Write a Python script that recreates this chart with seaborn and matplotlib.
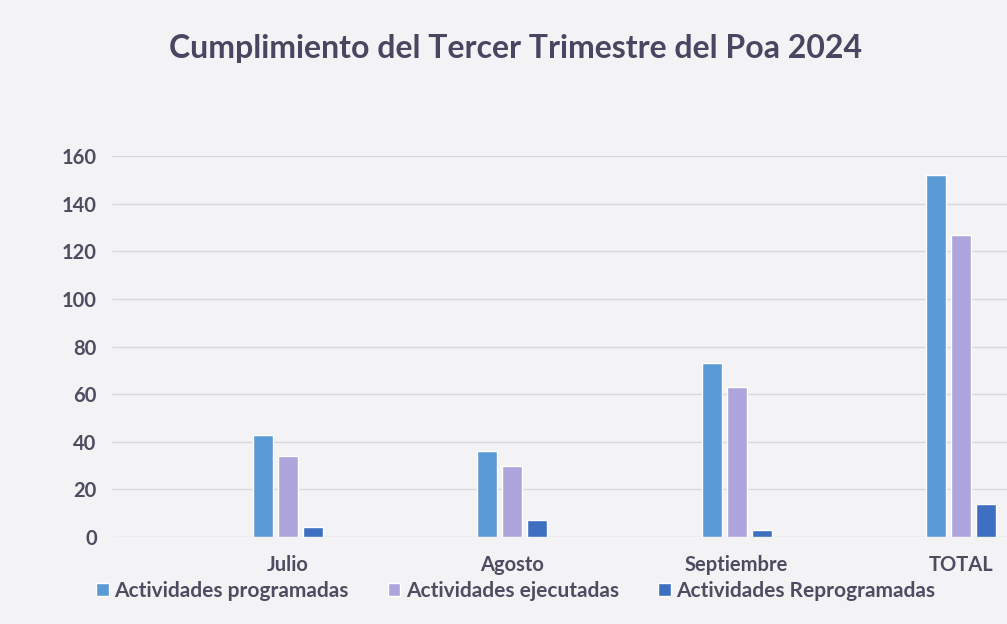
import numpy as np
import pandas as pd
import matplotlib
matplotlib.use('Agg')
import matplotlib.pyplot as plt
import seaborn as sns

# values
months = ['Julio', 'Agosto', 'Septiembre', 'TOTAL']
programadas = [43, 36, 73, 152]
ejecutadas = [34, 30, 63, 127]
reprogramadas = [4, 7, 3, 14]
series = ['Actividades programadas', 'Actividades ejecutadas', 'Actividades Reprogramadas']
colors = ['#5B9BD5', '#ADA5DB', '#3F6FC0']
title = 'Cumplimiento del Tercer Trimestre del Poa 2024'

df = pd.DataFrame({
    'mes': months * 3,
    'serie': [series[0]] * 4 + [series[1]] * 4 + [series[2]] * 4,
    'valor': programadas + ejecutadas + reprogramadas,
})

sns.set_style('white')
plt.rcParams['font.family'] = ['Lato', 'DejaVu Sans']
bg = '#F3F3F5'
txt = '#4E4C60'

fig = plt.figure(figsize=(10.07, 6.24), dpi=100, facecolor=bg)
ax = fig.add_axes([0.1112, 0.1394, 0.8888, 0.6106], facecolor=bg)

sns.barplot(data=df, x='mes', y='valor', hue='serie', hue_order=series,
            palette=colors, width=0.335, gap=0.2, ax=ax, saturation=1,
            legend=True)

ax.set_xlim(-0.785, 3.205)
ax.set_ylim(0, 160)
ax.set_yticks(np.arange(0, 161, 20))
ax.yaxis.grid(True, color='#D8D8E0', linewidth=1)
ax.set_axisbelow(True)
for s in ax.spines.values():
    s.set_visible(False)
ax.set_xlabel('')
ax.set_ylabel('')
ax.tick_params(axis='both', length=0, labelsize=14.5, labelcolor=txt)
ax.tick_params(axis='y', pad=11)
ax.tick_params(axis='x', pad=13)
for lab in ax.get_xticklabels() + ax.get_yticklabels():
    lab.set_fontweight('bold')

handles, labels = ax.get_legend_handles_labels()
ax.get_legend().remove()
leg = fig.legend(handles, labels, loc='center', bbox_to_anchor=(0.512, 0.053),
                 ncol=3, frameon=False, fontsize=15, handlelength=0.6,
                 handleheight=0.6, handletextpad=0.25, columnspacing=1.9)
for t in leg.get_texts():
    t.set_color(txt)
    t.set_fontweight('bold')

fig.text(0.512, 0.923, title, ha='center', va='center', fontsize=23,
         fontweight='bold', color='#4A4560')

fig.savefig('out.png', dpi=100, facecolor=bg)
